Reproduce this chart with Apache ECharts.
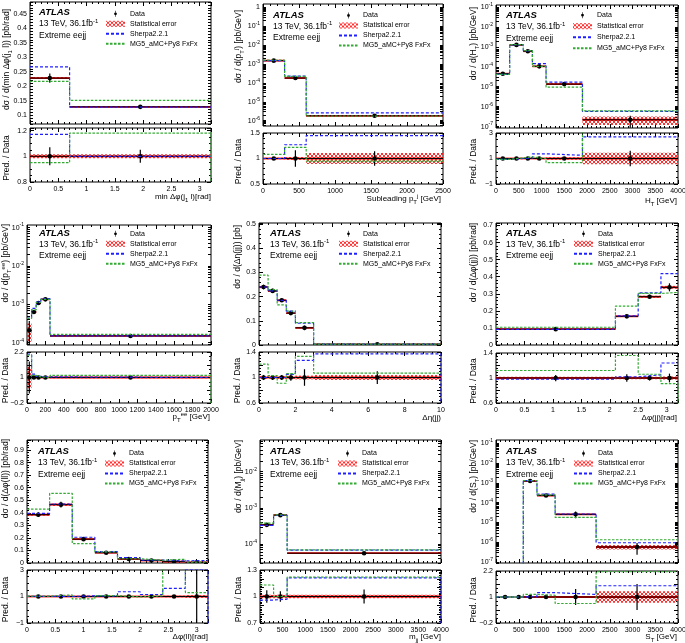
<!DOCTYPE html>
<html>
<head>
<meta charset="utf-8">
<title>ATLAS extreme eejj</title>
<script src="https://cdn.jsdelivr.net/npm/echarts@6.0.0/dist/echarts.min.js"></script>
<style>
html, body { margin: 0; padding: 0; background: #fff; }
#main { width: 685px; height: 643px; }
</style>
</head>
<body>
<div id="main"></div>
<script>
// values, one block per panel
// 1: min dphi(j1,l)
var edges1 = [0, 0.7, 3.2];
var data1 = [0.228, 0.129];
var sherpa1 = [0.267, 0.128];
var mg51 = [0.217, 0.151];
var rSherpa1 = [1.17, 1.0];
var rMg51 = [0.95, 1.18];
var rErr1 = [0.07, 0.05];
var rStat1 = [0.015, 0.015];
var xLabels1 = [0, 0.5, 1, 1.5, 2, 2.5, 3];
var yLabels1 = [0.1, 0.15, 0.2, 0.25, 0.3, 0.35, 0.4, 0.45];
var rLabels1 = [0.8, 1, 1.2];

// 2: subleading jet pT
var edges2 = [0, 300, 600, 2500];
var data2 = [1.5e-3, 1.8e-4, 1.8e-6];
var sherpa2 = [1.5e-3, 2.3e-4, 2.6e-6];
var mg52 = [1.6e-3, 2.2e-4, 1.75e-6];
var rSherpa2 = [1.0, 1.27, 1.45];
var rMg52 = [1.08, 1.22, 0.95];
var rErr2 = [0.03, 0.16, 0.14];
var rStat2 = [0.015, 0.03, 0.11];
var xLabels2 = [0, 500, 1000, 1500, 2000, 2500];
var yLabels2 = [1e-6, 1e-5, 1e-4, 1e-3, 1e-2, 1e-1, 1];
var rLabels2 = [0.5, 1, 1.5];

// 3: HT
var edges3 = [0, 300, 600, 800, 1100, 1900, 4000];
var data3 = [4.5e-5, 1.25e-3, 6e-4, 1.05e-4, 1.35e-5, 2.2e-7];
var sherpa3 = [4.2e-5, 1.25e-3, 6.3e-4, 1.45e-4, 1.7e-5, 5.8e-7];
var mg53 = [4.2e-5, 1.3e-3, 6.5e-4, 1.05e-4, 9.5e-6, 6.2e-7];
var rSherpa3 = [0.93, 1.0, 1.05, 1.37, 1.25, 2.7];
var rMg53 = [0.93, 1.05, 1.12, 1.0, 0.68, 3.2];
var rErr3 = [0.06, 0.03, 0.04, 0.1, 0.08, 0.6];
var rStat3 = [0.04, 0.03, 0.03, 0.05, 0.1, 0.45];
var xLabels3 = [0, 500, 1000, 1500, 2000, 2500, 3000, 3500, 4000];
var yLabels3 = [1e-7, 1e-6, 1e-5, 1e-4, 1e-3, 1e-2, 1e-1];
var rLabels3 = [-1, 1, 3];

// 4: pT(ee)
var edges4 = [0, 50, 100, 150, 250, 2000];
var data4 = [2.1e-4, 6.3e-4, 1.08e-3, 1.35e-3, 1.5e-4];
var sherpa4 = [4.4e-4, 7.8e-4, 1.15e-3, 1.4e-3, 1.5e-4];
var mg54 = [4.3e-4, 7.2e-4, 1.12e-3, 1.35e-3, 1.65e-4];
var rSherpa4 = [2.1, 1.16, 1.05, 1.03, 1.0];
var rMg54 = [2.05, 1.1, 1.03, 1.0, 1.1];
var rErr4 = [0.75, 0.05, 0.04, 0.04, 0.05];
var rStat4 = [0.5, 0.04, 0.03, 0.03, 0.03];
var xLabels4 = [0, 200, 400, 600, 800, 1000, 1200, 1400, 1600, 1800, 2000];
var yLabels4 = [1e-4, 1e-3, 1e-2, 1e-1];
var rLabels4 = [-0.2, 1, 2.2];

// 5: deta(jj)
var edges5 = [0, 0.5, 1, 1.5, 2, 3, 10];
var data5 = [0.24, 0.224, 0.185, 0.132, 0.071, 0.003];
var sherpa5 = [0.24, 0.224, 0.185, 0.14, 0.09, 0.004];
var mg55 = [0.289, 0.229, 0.166, 0.14, 0.093, 0.0033];
var rSherpa5 = [1.0, 1.0, 1.0, 1.05, 1.27, 1.37];
var rMg55 = [1.21, 1.03, 0.91, 1.06, 1.33, 1.07];
var rErr5 = [0.04, 0.04, 0.04, 0.05, 0.13, 0.1];
var rStat5 = [0.02, 0.02, 0.02, 0.025, 0.03, 0.04];
var xLabels5 = [0, 2, 4, 6, 8, 10];
var yLabels5 = [0, 0.1, 0.2, 0.3, 0.4, 0.5];
var rLabels5 = [0.6, 1, 1.4];

// 6: dphi(jj)
var edges6 = [0, 2.1, 2.5, 2.9, 3.2];
var data6 = [0.093, 0.168, 0.283, 0.338];
var sherpa6 = [0.092, 0.171, 0.305, 0.418];
var mg56 = [0.104, 0.228, 0.302, 0.308];
var rSherpa6 = [0.98, 1.02, 1.05, 1.24];
var rMg56 = [1.12, 1.36, 1.06, 0.91];
var rErr6 = [0.05, 0.06, 0.04, 0.07];
var rStat6 = [0.02, 0.02, 0.02, 0.025];
var xLabels6 = [0, 0.5, 1, 1.5, 2, 2.5, 3];
var yLabels6 = [0, 0.1, 0.2, 0.3, 0.4, 0.5, 0.6, 0.7];
var rLabels6 = [0.6, 1, 1.4];

// 7: dphi(ll)
var edges7 = [0, 0.4, 0.8, 1.2, 1.6, 2.0, 2.4, 2.8, 3.2];
var data7 = [0.385, 0.465, 0.19, 0.082, 0.032, 0.02, 0.011, 0.005];
var sherpa7 = [0.395, 0.47, 0.205, 0.09, 0.043, 0.023, 0.017, 0.02];
var mg57 = [0.43, 0.555, 0.155, 0.089, 0.034, 0.022, 0.03, 0.007];
var rSherpa7 = [1.02, 1.0, 1.05, 1.05, 1.36, 1.15, 1.62, 3.05];
var rMg57 = [1.03, 1.12, 0.82, 1.06, 0.97, 1.05, 3.3, 1.3];
var rErr7 = [0.05, 0.05, 0.05, 0.06, 0.08, 0.1, 0.12, 2.5];
var rStat7 = [0.02, 0.02, 0.025, 0.03, 0.04, 0.05, 0.06, 0.1];
var xLabels7 = [0, 0.5, 1, 1.5, 2, 2.5, 3];
var yLabels7 = [0, 0.1, 0.2, 0.3, 0.4, 0.5, 0.6, 0.7, 0.8, 0.9];
var rLabels7 = [-1, 1, 3];

// 8: m(jj)
var edges8 = [0, 300, 600, 4000];
var data8 = [3.4e-4, 6.3e-4, 5.6e-5];
var sherpa8 = [3.3e-4, 6.2e-4, 6.8e-5];
var mg58 = [3.8e-4, 6.4e-4, 6.9e-5];
var rSherpa8 = [0.96, 0.97, 1.21];
var rMg58 = [1.13, 1.0, 1.22];
var rErr8 = [0.07, 0.06, 0.08];
var rStat8 = [0.02, 0.02, 0.02];
var xLabels8 = [0, 500, 1000, 1500, 2000, 2500, 3000, 3500, 4000];
var yLabels8 = [1e-4, 1e-3, 1e-2];
var rLabels8 = [0.7, 1, 1.3];

// 9: ST (first two bins are empty)
var edges9 = [0, 400, 600, 900, 1300, 2200, 4000];
var data9 = [null, null, 1.25e-3, 2.3e-4, 2.6e-5, 5.8e-7];
var sherpa9 = [1e-9, 1e-9, 1.3e-3, 2.7e-4, 2.7e-5, 9.5e-7];
var mg59 = [1e-9, 1e-9, 1.3e-3, 2.5e-4, 1.8e-5, 1.35e-6];
var rSherpa9 = [1, 1, 1.02, 1.2, 1.12, 1.52];
var rMg59 = [1, 1, 1.12, 1.08, 0.7, 2.17];
var rErr9 = [0, 0, 0.04, 0.05, 0.37, 0.6];
var rStat9 = [0, 0, 0.02, 0.03, 0.05, 0.26];
var xLabels9 = [0, 500, 1000, 1500, 2000, 2500, 3000, 3500, 4000];
var yLabels9 = [1e-7, 1e-6, 1e-5, 1e-4, 1e-3, 1e-2, 1e-1];
var rLabels9 = [-0.2, 1, 2.2];

var FONT = '"Liberation Sans", Arial, Helvetica, sans-serif';
var BLUE = '#2020ff', GREEN = '#33aa33';

// frame: left, top, width, main height, ratio top, ratio height
var panels = [
	{ edges: edges1, data: data1, sherpa: sherpa1, mg5: mg51, rSherpa: rSherpa1, rMg5: rMg51, rErr: rErr1, rStat: rStat1,
	  xLabels: xLabels1, yLabels: yLabels1, rLabels: rLabels1,
	  frame: [30, 2, 181, 122, 128, 54],
	  xs: { min: 0, max: 3.2, step: 0.5, minor: 5 }, ys: { min: 0.07, max: 0.49, step: 0.01, minor: 0 },
	  rs: { min: 0.8, max: 1.22, step: 0.2, minor: 4 }, drop: 'mg5',
	  yTitle: 'dσ / d(min Δφ(j{sub|1} l)) [pb/rad]', xTitle: 'min Δφ(j{sub|1} l)[rad]',
	  text: [39, 12.7], legend: [105, 10.3, 3], yt: [7, 9], xt: [211, 197] },
	{ edges: edges2, data: data2, sherpa: sherpa2, mg5: mg52, rSherpa: rSherpa2, rMg5: rMg52, rErr: rErr2, rStat: rStat2,
	  xLabels: xLabels2, yLabels: yLabels2, rLabels: rLabels2,
	  frame: [263, 4, 180, 122, 133, 51],
	  xs: { min: 0, max: 2500, step: 500, minor: 5 }, ys: { min: 5.2e-7, max: 1.5, log: true },
	  rs: { min: 0.5, max: 1.5, step: 0.5, minor: 5 }, drop: null,
	  yTitle: 'dσ / d(p{sub|T}{sup|j}) [pb/GeV]', xTitle: 'Subleading p{sub|T}{sup|j} [GeV]',
	  text: [273, 15], legend: [338, 12, 3], yt: [239, 10], xt: [441, 199] },
	{ edges: edges3, data: data3, sherpa: sherpa3, mg5: mg53, rSherpa: rSherpa3, rMg5: rMg53, rErr: rErr3, rStat: rStat3,
	  xLabels: xLabels3, yLabels: yLabels3, rLabels: rLabels3,
	  frame: [496, 5, 182, 123, 133, 51],
	  xs: { min: 0, max: 4000, step: 500, minor: 5 }, ys: { min: 8.5e-8, max: 0.125, log: true },
	  rs: { min: -1, max: 3, step: 2, minor: 4 }, drop: null,
	  yTitle: 'dσ / d(H{sub|T}) [pb/GeV]', xTitle: 'H{sub|T} [GeV]',
	  text: [506, 15.7], legend: [572, 11.7, 4], yt: [474, 7], xt: [677, 201] },
	{ edges: edges4, data: data4, sherpa: sherpa4, mg5: mg54, rSherpa: rSherpa4, rMg5: rMg54, rErr: rErr4, rStat: rStat4,
	  xLabels: xLabels4, yLabels: yLabels4, rLabels: rLabels4,
	  frame: [27, 225, 184, 120, 352, 51],
	  xs: { min: 0, max: 2000, step: 200, minor: 2 }, ys: { min: 8.7e-5, max: 0.117, log: true },
	  rs: { min: -0.2, max: 2.2, step: 0.6, minor: 3 }, drop: 'mg5',
	  yTitle: 'dσ / d(p{sub|T}{sup|ee}) [pb/GeV]', xTitle: 'p{sub|T}{sup|ee} [GeV]',
	  text: [39, 233.3], legend: [105, 230.3, 3], yt: [6, 224], xt: [210, 417] },
	{ edges: edges5, data: data5, sherpa: sherpa5, mg5: mg55, rSherpa: rSherpa5, rMg5: rMg55, rErr: rErr5, rStat: rStat5,
	  xLabels: xLabels5, yLabels: yLabels5, rLabels: rLabels5,
	  frame: [259, 223, 182, 122, 352, 51],
	  xs: { min: 0, max: 10, step: 2, minor: 4 }, ys: { min: 0, max: 0.505, step: 0.1, minor: 5 },
	  rs: { min: 0.6, max: 1.4, step: 0.2, minor: 4 }, drop: 'sherpa',
	  yTitle: 'dσ / d(Δη(jj)) [pb]', xTitle: 'Δη(jj)',
	  text: [270, 233.3], legend: [338, 230.3, 3], yt: [238, 225], xt: [441, 418] },
	{ edges: edges6, data: data6, sherpa: sherpa6, mg5: mg56, rSherpa: rSherpa6, rMg5: rMg56, rErr: rErr6, rStat: rStat6,
	  xLabels: xLabels6, yLabels: yLabels6, rLabels: rLabels6,
	  frame: [496, 223, 182, 122, 353, 50],
	  xs: { min: 0, max: 3.2, step: 0.5, minor: 5 }, ys: { min: 0, max: 0.715, step: 0.1, minor: 5 },
	  rs: { min: 0.6, max: 1.4, step: 0.2, minor: 4 }, drop: 'mg5',
	  yTitle: 'dσ / d(Δφ(jj)) [pb/rad]', xTitle: 'Δφ(jj)[rad]',
	  text: [506, 233.3], legend: [573, 230.3, 3], yt: [474, 223], xt: [677, 418] },
	{ edges: edges7, data: data7, sherpa: sherpa7, mg5: mg57, rSherpa: rSherpa7, rMg5: rMg57, rErr: rErr7, rStat: rStat7,
	  xLabels: xLabels7, yLabels: yLabels7, rLabels: rLabels7,
	  frame: [27, 440, 181, 123, 570, 53],
	  xs: { min: 0, max: 3.2, step: 0.5, minor: 5 }, ys: { min: 0, max: 0.98, step: 0.1, minor: 5 },
	  rs: { min: -1, max: 3, step: 2, minor: 4 }, drop: 'sherpa',
	  yTitle: 'dσ / d(Δφ(ll)) [pb/rad]', xTitle: 'Δφ(ll)[rad]',
	  text: [38, 451.7], legend: [104, 450, 3], yt: [6, 439], xt: [208, 637] },
	{ edges: edges8, data: data8, sherpa: sherpa8, mg5: mg58, rSherpa: rSherpa8, rMg5: rMg58, rErr: rErr8, rStat: rStat8,
	  xLabels: xLabels8, yLabels: yLabels8, rLabels: rLabels8,
	  frame: [260, 440, 181, 123, 570, 53],
	  xs: { min: 0, max: 4000, step: 500, minor: 5 }, ys: { min: 3e-5, max: 0.075, log: true },
	  rs: { min: 0.7, max: 1.3, step: 0.1, minor: 5 }, drop: 'sherpa',
	  yTitle: 'dσ / d(M{sub|jj}) [pb/GeV]', xTitle: 'm{sub|jj} [GeV]',
	  text: [270, 451.7], legend: [337, 450, 3], yt: [239, 440], xt: [441, 637] },
	{ edges: edges9, data: data9, sherpa: sherpa9, mg5: mg59, rSherpa: rSherpa9, rMg5: rMg59, rErr: rErr9, rStat: rStat9,
	  xLabels: xLabels9, yLabels: yLabels9, rLabels: rLabels9,
	  frame: [496, 440, 182, 123, 571, 52],
	  xs: { min: 0, max: 4000, step: 500, minor: 5 }, ys: { min: 9e-8, max: 0.148, log: true },
	  rs: { min: -0.2, max: 2.2, step: 0.6, minor: 3 }, drop: null,
	  yTitle: 'dσ / d(S{sub|T}) [pb/GeV]', xTitle: 'S{sub|T} [GeV]',
	  text: [506, 451.7], legend: [573, 450, 3], yt: [474, 440], xt: [677, 637] }
];

// red cross-hatch used for the statistical error band
function makeHatch() {
	var c = document.createElement('canvas');
	c.width = 4; c.height = 4;
	var ctx = c.getContext('2d');
	ctx.strokeStyle = '#ff1a1a';
	ctx.lineWidth = 0.9;
	ctx.beginPath();
	ctx.moveTo(0, 0); ctx.lineTo(4, 4);
	ctx.moveTo(4, 0); ctx.lineTo(0, 4);
	ctx.stroke();
	return c;
}
var hatch = { image: makeHatch(), repeat: 'repeat' };

var richAxis = {
	sup: { fontSize: 5, lineHeight: 5, verticalAlign: 'top', fontFamily: FONT, color: '#000' }
};
var richText = {
	sup: { fontSize: 6, lineHeight: 6, verticalAlign: 'top', fontFamily: FONT, fill: '#000' },
	sub: { fontSize: 6, lineHeight: 6, verticalAlign: 'bottom', fontFamily: FONT, fill: '#000' }
};

function clamp(v, lo, hi) { return Math.max(lo, Math.min(hi, v)); }

function logTicks(min, max) {
	var out = [];
	for (var k = Math.floor(Math.log10(min)); k <= Math.ceil(Math.log10(max)); k++) {
		for (var m = 1; m < 10; m++) {
			var v = m * Math.pow(10, k);
			if (v >= min && v <= max) out.push(v);
		}
	}
	return out;
}

function fmtLinear(v) {
	var s = String(Math.round(v * 1000) / 1000);
	return s.replace('-', '\u2212');
}
function fmtLog(v) {
	var e = Math.round(Math.log10(v));
	return e === 0 ? '1' : '10{sup|' + e + '}';
}

function makeAxis(grid, spec, pos, labels) {
	var a = {
		type: spec.log ? 'log' : 'value',
		gridIndex: grid, position: pos,
		min: spec.min, max: spec.max,
		axisLine: { show: false, onZero: false },
		splitLine: { show: false },
		axisTick: { show: true, inside: true, length: 4, lineStyle: { color: '#000', width: 1 } },
		axisLabel: { show: false }
	};
	if (spec.log) {
		a.logBase = 10;
		a.axisTick.customValues = logTicks(spec.min, spec.max);
		a.axisTick.length = 3;
	} else {
		a.interval = spec.step;
		if (spec.minor) a.minorTick = { show: true, splitNumber: spec.minor, length: 2, lineStyle: { color: '#000', width: 1 } };
		else a.axisTick.length = 3;
	}
	if (labels) {
		a.axisLabel = {
			show: true, customValues: labels,
			fontSize: 7, fontFamily: FONT, color: '#000',
			margin: pos === 'bottom' ? 2 : 3, lineHeight: 10,
			formatter: spec.log ? fmtLog : fmtLinear,
			rich: richAxis
		};
	}
	return a;
}

function steps(edges, vals, drop) {
	var pts = [];
	for (var i = 0; i < vals.length; i++) pts.push([edges[i], vals[i]]);
	pts.push([edges[edges.length - 1], vals[vals.length - 1]]);
	if (drop != null) pts.push([edges[edges.length - 1], drop]);
	return pts;
}

function lineSeries(name, color, dash, xi, yi, pts) {
	return {
		type: 'line', name: name, xAxisIndex: xi, yAxisIndex: yi,
		data: pts, step: 'end', symbol: 'none', silent: true,
		lineStyle: { color: color, width: 1.2, type: dash },
		itemStyle: { color: color }
	};
}

function bandSeries(edges, centre, rel, xi, yi, lo, hi) {
	return {
		type: 'custom', name: 'Statistical error', xAxisIndex: xi, yAxisIndex: yi,
		clip: true, silent: true,
		itemStyle: { color: hatch },
		data: centre.map(function (v, i) { return [edges[i], v == null ? '-' : v]; }),
		renderItem: function (params, api) {
			var i = params.dataIndex, c = centre[i];
			if (c == null || !rel[i]) return null;
			var a = api.coord([edges[i], clamp(c * (1 + rel[i]), lo, hi)]);
			var b = api.coord([edges[i + 1], clamp(c * (1 - rel[i]), lo, hi)]);
			var m = api.coord([edges[i], c]);
			return {
				type: 'group', children: [
					{ type: 'rect', shape: { x: a[0], y: a[1], width: b[0] - a[0], height: b[1] - a[1] }, style: { fill: hatch } },
					{ type: 'line', shape: { x1: a[0], y1: m[1], x2: b[0], y2: m[1] }, style: { stroke: '#ff0000', lineWidth: 1.8 } }
				]
			};
		}
	};
}

function dataSeries(edges, centre, rel, xi, yi, lo, hi) {
	return {
		type: 'custom', name: 'Data', xAxisIndex: xi, yAxisIndex: yi,
		clip: true, silent: true,
		itemStyle: { color: '#000' },
		data: centre.map(function (v, i) { return [(edges[i] + edges[i + 1]) / 2, v == null ? '-' : v]; }),
		renderItem: function (params, api) {
			var i = params.dataIndex, c = centre[i];
			if (c == null || c < lo || c > hi) return null;
			var xc = (edges[i] + edges[i + 1]) / 2;
			var m = api.coord([xc, c]);
			var l = api.coord([edges[i], c]), r = api.coord([edges[i + 1], c]);
			var t = api.coord([xc, clamp(c * (1 + rel[i]), lo, hi)]);
			var b = api.coord([xc, clamp(c * (1 - rel[i]), lo, hi)]);
			return {
				type: 'group', children: [
					{ type: 'line', shape: { x1: l[0], y1: l[1], x2: r[0], y2: r[1] }, style: { stroke: '#000', lineWidth: 1 } },
					{ type: 'line', shape: { x1: t[0], y1: t[1], x2: b[0], y2: b[1] }, style: { stroke: '#000', lineWidth: 1.2 } },
					{ type: 'circle', shape: { cx: m[0], cy: m[1], r: 2.3 }, style: { fill: '#000' } }
				]
			};
		}
	};
}

function txt(x, y, text, size, extra) {
	var t = {
		type: 'text', x: x, y: y, z: 100, silent: true,
		style: { text: text, fontSize: size, fontFamily: FONT, fill: '#000', align: 'left', verticalAlign: 'middle', lineHeight: 12, rich: richText }
	};
	for (var k in extra) {
		if (k === 'rotation') t.rotation = extra[k]; else t.style[k] = extra[k];
	}
	return t;
}

var grids = [], xAxes = [], yAxes = [], series = [], legends = [], texts = [];

panels.forEach(function (p, n) {
	var f = p.frame;
	var gm = 2 * n, gr = 2 * n + 1;
	grids.push({ left: f[0], top: f[1], width: f[2], height: f[3], show: true, borderColor: '#000', borderWidth: 1, outerBoundsMode: 'none' });
	grids.push({ left: f[0], top: f[4], width: f[2], height: f[5], show: true, borderColor: '#000', borderWidth: 1, outerBoundsMode: 'none' });

	// main pad: ticks on all four sides, no x labels
	xAxes.push(makeAxis(gm, p.xs, 'bottom', null));
	xAxes.push(makeAxis(gm, p.xs, 'top', null));
	yAxes.push(makeAxis(gm, p.ys, 'left', p.yLabels));
	yAxes.push(makeAxis(gm, p.ys, 'right', null));
	// ratio pad
	xAxes.push(makeAxis(gr, p.xs, 'bottom', p.xLabels));
	xAxes.push(makeAxis(gr, p.xs, 'top', null));
	yAxes.push(makeAxis(gr, p.rs, 'left', p.rLabels));
	yAxes.push(makeAxis(gr, p.rs, 'right', null));

	var xm = 2 * gm, xr = 2 * gr;
	var ones = p.edges.slice(1).map(function () { return 1; });

	series.push(bandSeries(p.edges, p.data, p.rStat, xm, xm, p.ys.min, p.ys.max));
	series.push(lineSeries('Sherpa2.2.1', BLUE, [3, 2], xm, xm, steps(p.edges, p.sherpa)));
	series.push(lineSeries('MG5_aMC+Py8 FxFx', GREEN, [2.5, 1.5], xm, xm, steps(p.edges, p.mg5)));
	series.push(dataSeries(p.edges, p.data, p.rErr, xm, xm, p.ys.min, p.ys.max));

	var low = p.rs.min - 1;
	series.push(bandSeries(p.edges, ones, p.rStat, xr, xr, p.rs.min, p.rs.max));
	series.push(lineSeries('Sherpa2.2.1', BLUE, [3, 2], xr, xr, steps(p.edges, p.rSherpa, p.drop === 'sherpa' ? low : null)));
	series.push(lineSeries('MG5_aMC+Py8 FxFx', GREEN, [2.5, 1.5], xr, xr, steps(p.edges, p.rMg5, p.drop === 'mg5' ? low : null)));
	series.push(dataSeries(p.edges, ones, p.rErr, xr, xr, p.rs.min, p.rs.max));

	legends.push({
		left: p.legend[0], top: p.legend[1], orient: 'vertical', padding: 0,
		itemGap: p.legend[2], itemWidth: 19, itemHeight: 6, selectedMode: false,
		textStyle: { fontSize: 7, fontFamily: FONT, color: '#000' },
		data: [
			{ name: 'Data', icon: 'path://M4.4,0h1.2v12h-1.2z M5,3.2A2.8,2.8 0 1 1 5,8.8A2.8,2.8 0 1 1 5,3.2z' },
			{ name: 'Statistical error', icon: 'rect' },
			{ name: 'Sherpa2.2.1', itemStyle: { opacity: 0 } },
			{ name: 'MG5_aMC+Py8 FxFx', itemStyle: { opacity: 0 } }
		]
	});

	texts.push(txt(p.text[0], p.text[1], 'ATLAS', 9.5, { fontWeight: 'bold', fontStyle: 'italic' }));
	texts.push(txt(p.text[0], p.text[1] + 11.3, '13 TeV, 36.1fb{sup|-1}', 8.5, {}));
	texts.push(txt(p.text[0], p.text[1] + 22.7, 'Extreme eejj', 8.5, {}));
	texts.push(txt(p.yt[0], p.yt[1], p.yTitle, 8.5, { align: 'right', rotation: Math.PI / 2 }));
	texts.push(txt(p.yt[0], f[4] + f[5] / 2 + 3, 'Pred. / Data', 8.5, { align: 'center', rotation: Math.PI / 2 }));
	texts.push(txt(p.xt[0], p.xt[1], p.xTitle, 8, { align: 'right' }));
});

var myChart = echarts.init(document.getElementById('main'), null, { renderer: 'canvas' });
var option = {
	animation: false,
	backgroundColor: '#fff',
	grid: grids,
	xAxis: xAxes,
	yAxis: yAxes,
	legend: legends,
	graphic: texts,
	series: series
};
myChart.setOption(option);
</script>
</body>
</html>
